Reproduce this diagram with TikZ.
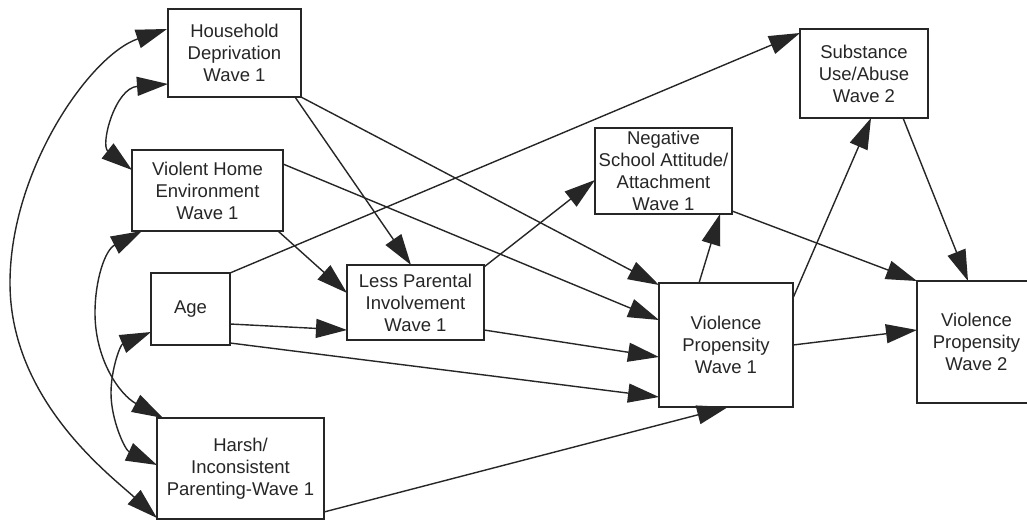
\documentclass[tikz,border=0pt]{standalone}
\usepackage{fontspec}
\setmainfont{Liberation Sans}
\usetikzlibrary{arrows.meta,calc}
\definecolor{ink}{HTML}{262626}
\begin{document}
\begin{tikzpicture}[x=1pt,y=-1pt,
  box/.style={draw=ink,line width=1.8pt,rectangle,inner sep=0pt,outer sep=0pt,
    align=center,text=ink,font=\fontsize{18.5}{22}\selectfont},
  arr/.style={draw=ink,line width=1.4pt,-{Triangle[length=31pt,width=19pt]}},
  dbl/.style={draw=ink,line width=1.4pt,{Triangle[length=31pt,width=19pt]}-{Triangle[length=31pt,width=19pt]}}]
\useasboundingbox[fill=white] (0,0) rectangle (1027,521);
% boxes
\node[box,minimum width=133pt,minimum height=88pt] (hd) at (234.5,53) {Household\\Deprivation\\Wave 1};
\node[box,minimum width=151pt,minimum height=81pt] (vhe) at (207.5,190.5) {Violent Home\\Environment\\Wave 1};
\node[box,minimum width=79pt,minimum height=72pt] (age) at (190.5,309) {Age};
\node[box,minimum width=167pt,minimum height=101pt] (hip) at (240.5,468.5) {Harsh/\\Inconsistent\\Parenting-Wave 1};
\node[box,minimum width=137pt,minimum height=75pt] (lpi) at (415.5,302.5) {Less Parental\\Involvement\\Wave 1};
\node[box,minimum width=137pt,minimum height=86pt] (nsa) at (663.5,171) {Negative\\School Attitude/\\Attachment\\Wave 1};
\node[box,minimum width=128pt,minimum height=89pt] (sua) at (864,73.5) {Substance\\Use/Abuse\\Wave 2};
\node[box,minimum width=134pt,minimum height=124pt] (vp1) at (726,345) {Violence\\Propensity\\Wave 1};
\node[box,minimum width=119pt,minimum height=122pt] (vp2) at (976.5,342) {Violence\\Propensity\\Wave 2};
% straight paths
\draw[arr] ($(hd.south east)+(-6,0)$) -- ($(lpi.north west)+(64,0)$);
\draw[arr] (hd.south east) -- ($(vp1.north west)+(0,2)$);
\draw[arr] ($(vhe.south east)+(-5,0)$) -- ($(lpi.west)+(0,-9.5)$);
\draw[arr] ($(vhe.east)+(0,-26.5)$) -- ($(vp1.west)+(0,-25)$);
\draw[arr] (age.north east) -- ($(sua.north west)+(0,4)$);
\draw[arr] ($(age.east)+(0,15)$) -- ($(lpi.west)+(0,27.5)$);
\draw[arr] ($(age.south east)+(0,-2)$) -- ($(vp1.south west)+(0,-10)$);
\draw[arr] ($(hip.south east)+(0,-7)$) -- ($(vp1.south)+(2,0)$);
\draw[arr] ($(lpi.north east)+(0,2)$) -- ($(nsa.west)+(0,9)$);
\draw[arr] ($(lpi.south east)+(0,-10)$) -- ($(vp1.west)+(0,12)$);
\draw[arr] ($(vp1.north west)+(40,0)$) -- ($(nsa.south east)+(-12,0)$);
\draw[arr] ($(vp1.north east)+(0,15)$) -- ($(sua.south)+(7,0)$);
\draw[arr] (vp1.east) -- ($(vp2.west)+(0,-12)$);
\draw[arr] ($(nsa.south east)+(0,-3)$) -- (vp2.north west);
\draw[arr] ($(sua.south east)+(-25,0)$) -- ($(vp2.north)+(-8.5,0)$);
% covariances
\draw[dbl] ($(hd.south west)+(0,-13)$) .. controls (115,88) and (100,145) .. ($(vhe.north west)+(0,20)$);
\draw[dbl] ($(hd.north west)+(-1,20)$) .. controls (90,55) and (10,170) .. (10,283)
  .. controls (10,400) and (110,475) .. ($(hip.south west)+(0,-1)$);
\draw[dbl] ($(vhe.south west)+(10,0)$) .. controls (105,250) and (95,280) .. (95,313)
  .. controls (95,360) and (120,395) .. ($(hip.north west)+(6,0)$);
\draw[dbl] ($(age.south west)+(0,-13)$) .. controls (120,345) and (111,370) .. (111,393)
  .. controls (111,420) and (125,450) .. ($(hip.west)+(0,-3.5)$);
\end{tikzpicture}
\end{document}
